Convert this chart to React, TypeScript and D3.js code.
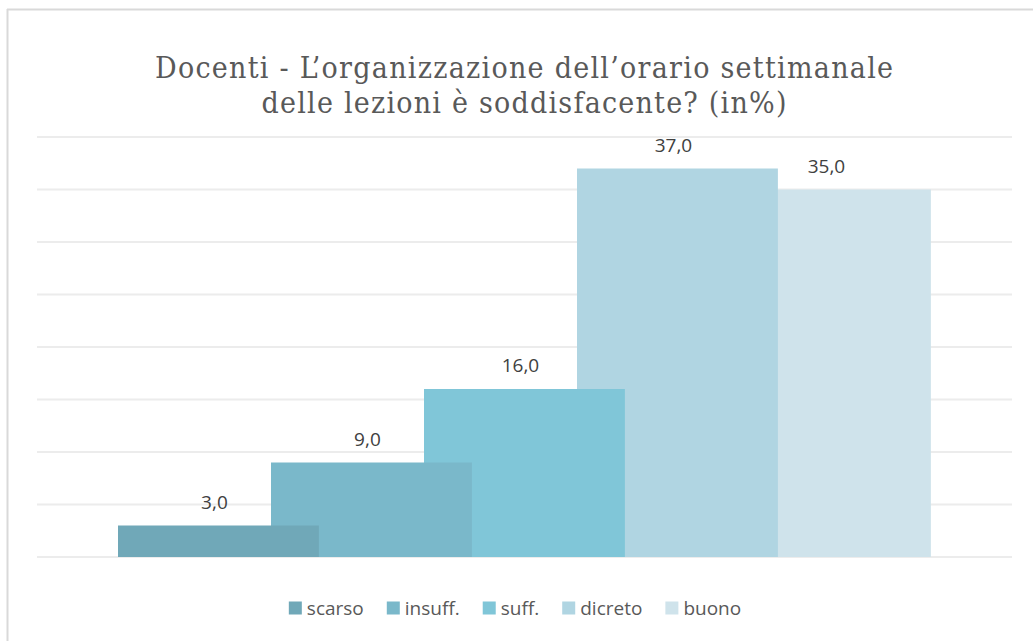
import React, { useEffect, useRef } from "react";
import * as d3 from "d3";

const titleLines = [
  "Docenti - L’organizzazione dell’orario settimanale",
  "delle lezioni è soddisfacente? (in%)",
];
const seriesNames = ["scarso", "insuff.", "suff.", "dicreto", "buono"];
const seriesValues = [3.0, 9.0, 16.0, 37.0, 35.0];
const seriesColors = ["#70a8b8", "#7ab8ca", "#80c6d8", "#b0d5e2", "#cfe3eb"];
const yTicks = [0, 5, 10, 15, 20, 25, 30, 35, 40];

const W = 1033;
const H = 641;

export default function App() {
  const ref = useRef<SVGSVGElement | null>(null);

  useEffect(() => {
    const svg = d3.select(ref.current);
    svg.selectAll("*").remove();

    svg.append("rect").attr("width", W).attr("height", H).attr("fill", "#ffffff");

    // outer frame (left and top lines)
    svg.append("line").attr("x1", 7.5).attr("x2", 7.5).attr("y1", 9).attr("y2", H)
      .attr("stroke", "#d9d9d9").attr("stroke-width", 2);
    svg.append("line").attr("x1", 7).attr("x2", W).attr("y1", 9.5).attr("y2", 9.5)
      .attr("stroke", "#d9d9d9").attr("stroke-width", 2);

    // title
    const titleBase = [78, 113];
    const titleWidths = [738, 525];
    titleLines.forEach((t, i) => {
      svg.append("text")
        .attr("x", 524)
        .attr("y", titleBase[i])
        .attr("text-anchor", "middle")
        .attr("font-family", "'DejaVu Serif Condensed', 'DejaVu Serif', serif")
        .attr("font-stretch", "condensed")
        .attr("font-size", 30)
        .attr("fill", "#595959")
        .attr("textLength", titleWidths[i])
        .attr("lengthAdjust", "spacing")
        .text(t);
    });

    const plotLeft = 37;
    const plotRight = 1012;
    const y = d3.scaleLinear().domain([0, 40]).range([557, 137]);

    // gridlines
    svg.append("g").selectAll("line").data(yTicks).join("line")
      .attr("x1", plotLeft).attr("x2", plotRight)
      .attr("y1", (d) => y(d)).attr("y2", (d) => y(d))
      .attr("stroke", "#ececec").attr("stroke-width", 2);

    const x = d3.scaleBand<string>().domain(seriesNames).range([118, 883]).paddingInner(0).paddingOuter(0);
    const barW = x.step() * 1.313;

    const data = seriesNames.map((n, i) => ({ name: n, value: seriesValues[i], color: seriesColors[i] }));

    // bars drawn last-to-first so earlier series sit on top
    svg.append("g").selectAll("rect").data(data.slice().reverse()).join("rect")
      .attr("x", (d) => x(d.name)!)
      .attr("y", (d) => y(d.value))
      .attr("width", barW)
      .attr("height", (d) => y(0) - y(d.value))
      .attr("fill", (d) => d.color);

    // labels
    const fmt = (v: number) => v.toFixed(1).replace(".", ",");
    svg.append("g").selectAll("text").data(data).join("text")
      .attr("x", (d) => x(d.name)! + barW / 2 - 4)
      .attr("y", (d) => y(d.value) - 17)
      .attr("text-anchor", "middle")
      .attr("font-family", "'Open Sans', sans-serif")
      .attr("font-size", 19)
      .attr("fill", "#404040")
      .text((d) => fmt(d.value));

    // legend
    const lg = svg.append("g");
    const sq = 13;
    const gapSq = 5;
    const gapItem = 23;
    const items = data.map((d) => {
      const g = lg.append("g");
      g.append("rect").attr("width", sq).attr("height", sq).attr("y", -sq / 2).attr("fill", d.color);
      const t = g.append("text")
        .attr("x", sq + gapSq)
        .attr("y", 7)
        .attr("font-family", "'Open Sans', sans-serif")
        .attr("font-size", 19)
        .attr("fill", "#595959")
        .text(d.name);
      const tw = (t.node() as SVGTextElement).getComputedTextLength();
      return { g, w: sq + gapSq + tw };
    });
    const total = d3.sum(items, (it) => it.w) + gapItem * (items.length - 1);
    let cx = 515 - total / 2;
    items.forEach((it) => {
      it.g.attr("transform", `translate(${cx},${608})`);
      cx += it.w + gapItem;
    });
  }, []);

  return (
    <svg
      ref={ref}
      width={W}
      height={H}
      style={{ position: "absolute", left: 0, top: 0, display: "block" }}
    />
  );
}
